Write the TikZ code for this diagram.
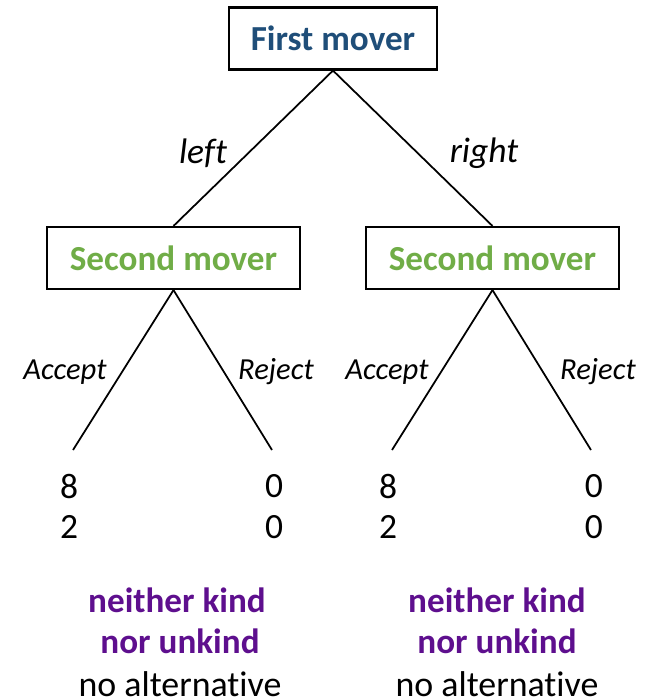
\documentclass[tikz,border=0pt]{standalone}
\usepackage{fontspec}
\setmainfont{Carlito}[Ligatures=NoCommon]
\usepackage{xcolor}
\usetikzlibrary{positioning,calc}
\definecolor{moverblue}{HTML}{1F4E79}
\definecolor{movergreen}{HTML}{70AD47}
\definecolor{kindpurple}{HTML}{5E0F8E}

\begin{document}
\begin{tikzpicture}[
    player/.style={rectangle, draw, line width=0.6pt, minimum height=0.62cm, inner sep=0pt, font=\fontsize{10}{12}\selectfont\bfseries},
    move/.style={font=\fontsize{10.1}{12}\selectfont\itshape},
    act/.style={font=\fontsize{8.7}{10}\selectfont\itshape},
    pay/.style={font=\fontsize{10.1}{12}\selectfont},
    verdict/.style={font=\fontsize{10.2}{12}\selectfont},
    kind/.style={text=kindpurple, font=\fontsize{10}{12}\selectfont\bfseries},
    branch/.style={line width=0.5pt}]
    \useasboundingbox (0,0) rectangle (6.48,-7.00);

    \node[player, text=moverblue, minimum width=2.08cm] (first) at (3.33,-0.385) {First mover};
    \node[player, text=movergreen, minimum width=2.53cm] (secondL) at (1.735,-2.58) {Second mover};
    \node[player, text=movergreen, minimum width=2.53cm] (secondR) at (4.925,-2.58) {Second mover};

    \draw[branch] (first.south) -- (secondL.north);
    \draw[branch] (first.south) -- (secondR.north);
    \node[move] (left) at (2.03,-1.53) {left};
    \node[move] (right) at (4.84,-1.53) {right};

    % leaves of the left subtree
    \coordinate (endLA) at (0.73,-4.50);
    \coordinate (endLR) at (2.72,-4.50);
    \draw[branch] (secondL.south) -- (endLA);
    \draw[branch] (secondL.south) -- (endLR);
    \node[act] (acceptL) at (0.65,-3.72) {Accept};
    \node[act] (rejectL) at (2.76,-3.72) {Reject};

    % leaves of the right subtree
    \coordinate (endRA) at (3.92,-4.50);
    \coordinate (endRR) at (5.91,-4.50);
    \draw[branch] (secondR.south) -- (endRA);
    \draw[branch] (secondR.south) -- (endRR);
    \node[act] (acceptR) at (3.87,-3.72) {Accept};
    \node[act] (rejectR) at (5.98,-3.72) {Reject};

    % payoffs
    \node[pay] (payLA1) at (0.69,-4.86) {8};
    \node[pay] (payLA2) at (0.69,-5.27) {2};
    \node[pay] (payLR1) at (2.74,-4.86) {0};
    \node[pay] (payLR2) at (2.74,-5.27) {0};
    \node[pay] (payRA1) at (3.88,-4.86) {8};
    \node[pay] (payRA2) at (3.88,-5.27) {2};
    \node[pay] (payRR1) at (5.94,-4.86) {0};
    \node[pay] (payRR2) at (5.94,-5.27) {0};

    % verdicts
    \node[kind] (kindL1) at (1.77,-6.00) {neither kind};
    \node[kind] (kindL2) at (1.80,-6.41) {nor unkind};
    \node[verdict] (altL) at (1.80,-6.84) {no alternative};
    \node[kind] (kindR1) at (4.97,-6.00) {neither kind};
    \node[kind] (kindR2) at (4.97,-6.41) {nor unkind};
    \node[verdict] (altR) at (4.97,-6.84) {no alternative};
\end{tikzpicture}
\end{document}
